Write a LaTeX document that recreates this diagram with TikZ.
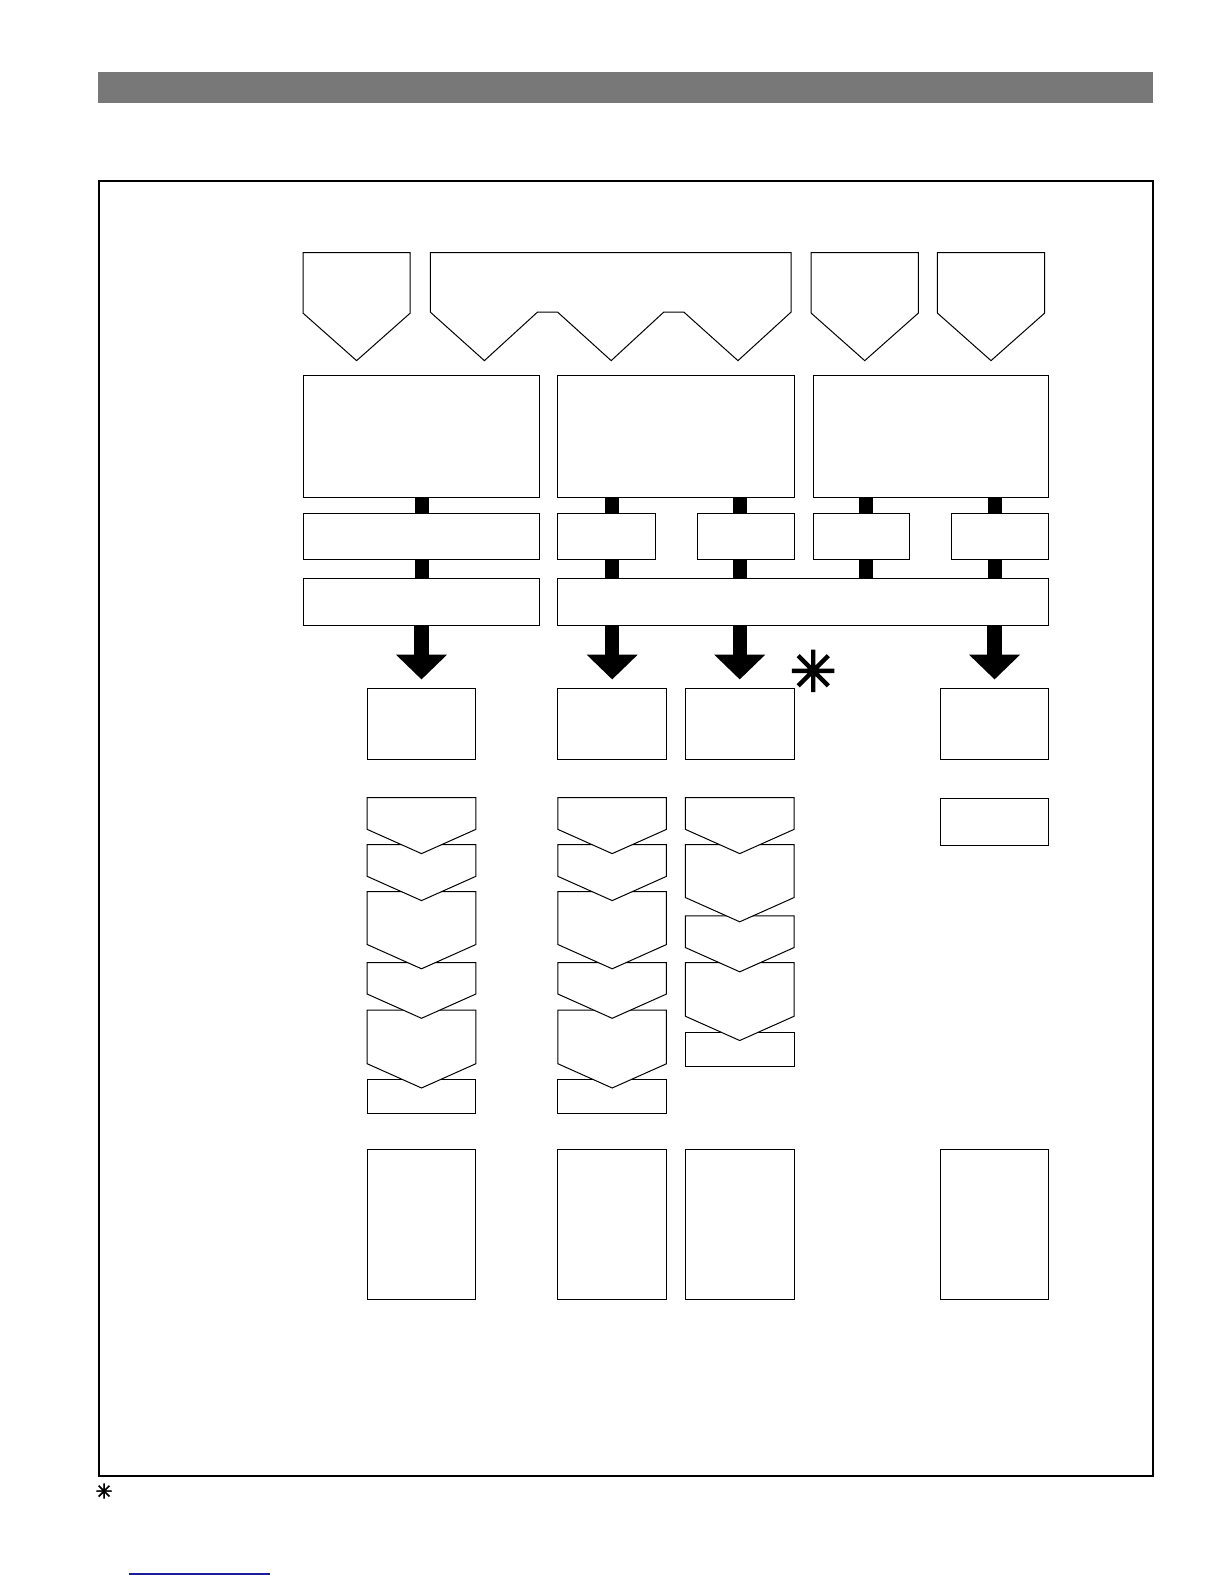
\documentclass[tikz,border=0pt]{standalone}
\usepackage{fontspec}
\newfontfamily\markfont[FakeBold=3]{DejaVu Sans}
\usetikzlibrary{arrows.meta}
\definecolor{bandgray}{HTML}{787878}
\definecolor{linkblue}{HTML}{1C1C9A}
\newcommand{\pxu}{0.50495pt}

\begin{document}
\begin{tikzpicture}[
  x=0.50495pt, y=-0.50495pt,
  box/.style={rectangle, draw, fill=white, inner sep=0pt, line width=0.5pt},
  cell/.style 2 args={box, minimum width=#1*\pxu, minimum height=#2*\pxu},
  chev/.style={draw, fill=white, line width=0.5pt, line join=miter},
  joint/.style={line width=7pt},
  flow/.style={line width=7.2pt, -{Triangle[width=24.8pt,length=12.4pt]}, shorten >=4.5pt},
]
  \useasboundingbox (0,0) rectangle (1212,1568);

  % header band and outer frame
  \fill[bandgray] (97,71) rectangle (1141,102);
  \draw[line width=1pt] (98,179) rectangle (1141,1461);

  % top pentagons
  \draw[chev] (300,250) -- (406,250) -- (406,310) -- (353,357) -- (300,310) -- cycle;
  \draw[chev] (426,250) -- (783,250) -- (783,309) -- (730.5,357) -- (677,309)
    -- (657,309) -- (605,357) -- (552,309) -- (532,309) -- (479.5,357) -- (426,309) -- cycle;
  \draw[chev] (803,250) -- (909,250) -- (909,310) -- (856,357) -- (803,310) -- cycle;
  \draw[chev] (928,250) -- (1034,250) -- (1034,310) -- (981,357) -- (928,310) -- cycle;

  % function blocks
  \node[cell={234}{120}] (fnA) at (417,432) {};
  \node[cell={234}{120}] (fnB) at (669,432) {};
  \node[cell={233}{120}] (fnC) at (921.5,432) {};

  % sub blocks
  \node[cell={234}{46}] (subA) at (417,531) {};
  \node[cell={97}{46}] (subB1) at (600.5,531) {};
  \node[cell={96}{46}] (subB2) at (738,531) {};
  \node[cell={95}{46}] (subC1) at (852.5,531) {};
  \node[cell={96}{46}] (subC2) at (990,531) {};

  % bus blocks
  \node[cell={234}{46}] (busA) at (417,596) {};
  \node[cell={486}{46}] (busB) at (795,596) {};

  % output columns
  \node[cell={107.5}{70}] (outA) at (417.25,717) {};
  \node[cell={107.5}{70}] (outB) at (606,717) {};
  \node[cell={107.5}{70}] (outC) at (732.25,717) {};
  \node[cell={107.5}{70}] (outD) at (984.5,717) {};
  \node[cell={107.5}{47}] (stepD) at (984.5,813.5) {};
  \coordinate (midC) at (857,596);

  % step chains (drawn bottom up so each tip lies over the next box)
  \node[cell={107.5}{33}] (endA) at (417.25,1085.5) {};
  \node[cell={107.5}{33}] (endB) at (606,1085.5) {};
  \node[cell={107.5}{33.5}] (endC) at (732.25,1039) {};
  \foreach \cx in {417.25, 606}
    \foreach \t/\s in {1000/1053, 953/984, 882.5/935, 836/867.5, 789.5/821}
      \draw[chev] (\cx-53.75,\t) -- (\cx+53.75,\t) -- (\cx+53.75,\s) -- (\cx,\s+24)
        -- (\cx-53.75,\s) -- cycle;
  \foreach \t/\s in {953/1006, 906.5/938, 836/888.5, 789.5/821}
    \draw[chev] (732.25-53.75,\t) -- (732.25+53.75,\t) -- (732.25+53.75,\s) -- (732.25,\s+24)
      -- (732.25-53.75,\s) -- cycle;

  % result blocks
  \node[cell={107.5}{148}] (resA) at (417.25,1212) {};
  \node[cell={107.5}{148}] (resB) at (606,1212) {};
  \node[cell={107.5}{148}] (resC) at (732.25,1212) {};
  \node[cell={107.5}{148}] (resD) at (984.5,1212) {};

  % short links between blocks
  \draw[joint] (fnA.south -| outA) -- (subA.north -| outA);
  \draw[joint] (fnB.south -| outB) -- (subB1.north -| outB);
  \draw[joint] (fnB.south -| outC) -- (subB2.north -| outC);
  \draw[joint] (fnC.south -| midC) -- (subC1.north -| midC);
  \draw[joint] (fnC.south -| outD) -- (subC2.north -| outD);
  \draw[joint] (subA.south -| outA) -- (busA.north -| outA);
  \draw[joint] (subB1.south -| outB) -- (busB.north -| outB);
  \draw[joint] (subB2.south -| outC) -- (busB.north -| outC);
  \draw[joint] (subC1.south -| midC) -- (busB.north -| midC);
  \draw[joint] (subC2.south -| outD) -- (busB.north -| outD);

  % fat arrows down to the columns
  \draw[flow] (busA.south -| outA) -- (outA.north);
  \draw[flow] (busB.south -| outB) -- (outB.north);
  \draw[flow] (busB.south -| outC) -- (outC.north);
  \draw[flow] (busB.south -| outD) -- (outD.north);

  % marks
  \node[font=\markfont\bfseries\fontsize{28}{28}\selectfont, inner sep=0pt] (mark) at (805,664) {✳};
  \node[font=\markfont\bfseries\fontsize{10}{10}\selectfont, inner sep=0pt] (note) at (103,1476) {✳};
  \draw[linkblue, line width=0.8pt] (128,1558) -- (267,1558);
\end{tikzpicture}
\end{document}
